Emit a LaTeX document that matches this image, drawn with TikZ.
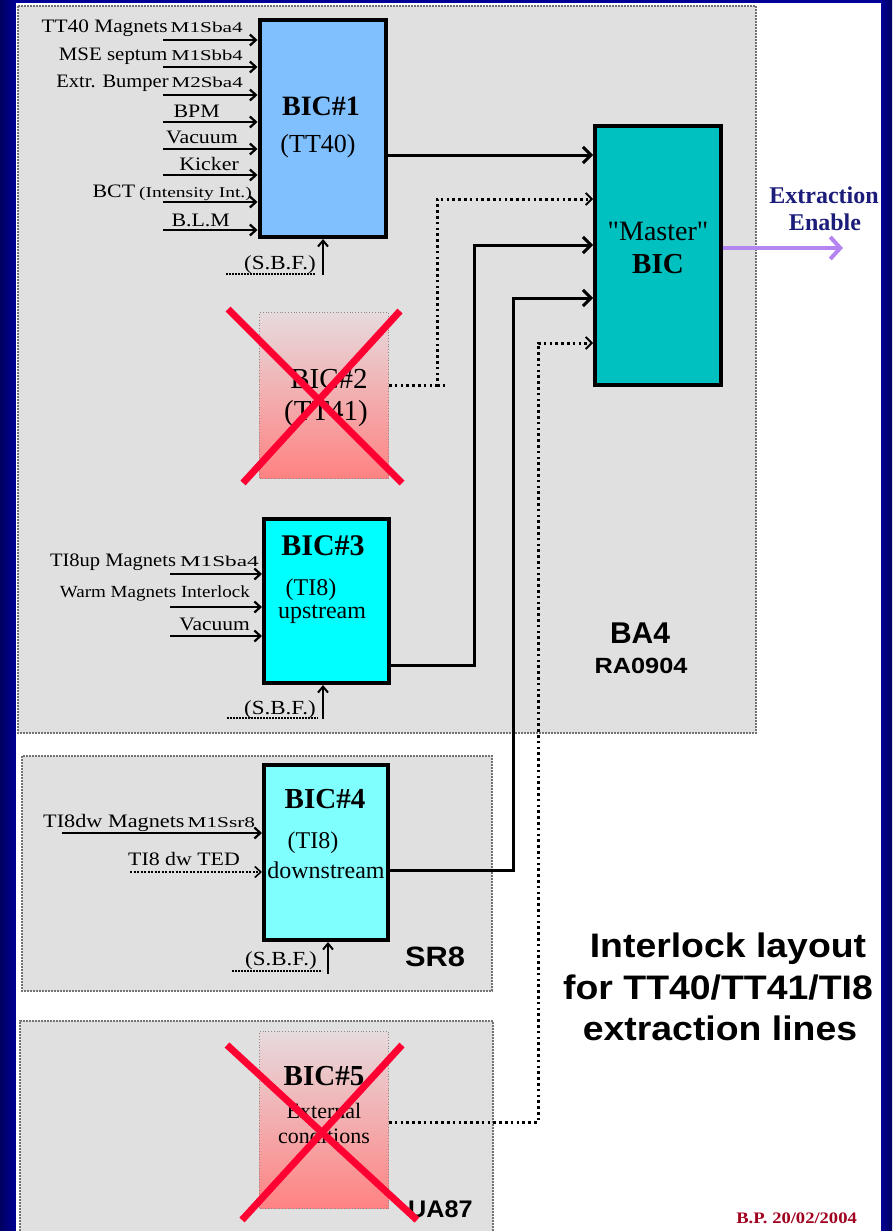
\documentclass[tikz,border=0pt]{standalone}
\usepackage{graphicx}
\usepackage{fontspec}
\setmainfont{Liberation Serif}
\newfontfamily\sansf{Liberation Sans}
\newfontfamily\qfont{Liberation Serif}[Ligatures=TeXOff]
\usetikzlibrary{arrows.meta}
\definecolor{navy}{HTML}{000096}
\definecolor{navydark}{HTML}{000060}
\definecolor{regiongray}{HTML}{E0E0E0}
\definecolor{bicblue}{HTML}{80C0FF}
\definecolor{masterteal}{HTML}{00C0C0}
\definecolor{biccyan}{HTML}{00FFFF}
\definecolor{biclight}{HTML}{80FFFF}
\definecolor{pinktop}{HTML}{E6DADD}
\definecolor{pinkbot}{HTML}{FF8282}
\definecolor{xred}{HTML}{FF0033}
\definecolor{extpurple}{HTML}{B485F2}
\definecolor{extnavy}{HTML}{1C1C7A}
\definecolor{datered}{HTML}{A0001E}
\newcommand\fsz[1]{\fontsize{#1}{#1}\selectfont}
\newcommand\lab[3]{\scalebox{#1}[1]{\fsz{#2}#3}}
\begin{document}
\begin{tikzpicture}[x=1pt,y=-1pt,
  region/.style={fill=regiongray, draw=black!55, line width=1.2pt, dash pattern=on 1.6pt off 1.4pt},
  bic/.style={draw=black, line width=4pt, inner sep=0pt},
  deadbic/.style={draw=black!45, line width=0.8pt, dotted, top color=pinktop, bottom color=pinkbot, inner sep=0pt},
  txt/.style={inner sep=0pt, anchor=base},
  lbl/.style={inner sep=0pt, anchor=base east},
  lblw/.style={inner sep=0pt, anchor=base west},
  inarrow/.style={line width=2.2pt, -{Straight Barb[length=6pt,width=11pt,line width=2.2pt]}},
  dinarrow/.style={line width=2pt, dash pattern=on 2pt off 1.5pt, -{Straight Barb[length=6pt,width=11pt,line width=1.6pt]}},
  uparrow/.style={line width=2pt, -{Straight Barb[length=6pt,width=10pt,line width=2pt]}},
  sbfline/.style={line width=1.6pt, dash pattern=on 1.6pt off 1.4pt},
  conn/.style={line width=3pt, -{Straight Barb[length=8pt,width=16pt,line width=3pt]}},
  dconn/.style={line width=3pt, dash pattern=on 2.6pt off 3.2pt, -{Straight Barb[length=6pt,width=12pt,line width=1.8pt]}},
  dline/.style={line width=3pt, dash pattern=on 2.6pt off 3.2pt},
  xmark/.style={draw=xred, line width=7pt},
  extarrow/.style={draw=extpurple, line width=4pt, -{Straight Barb[length=10pt,width=22pt,line width=4pt]}},
  title/.style={inner sep=0pt, anchor=base, font=\sansf\bfseries}
]
\useasboundingbox (0,0) rectangle (892,1231);
% background
\fill[navy] (0,0) rectangle (892,1231);
\shade[left color=navydark, right color=navy] (0,0) rectangle (16,1231);
\shade[left color=navy, right color=navydark] (881,0) rectangle (892,1231);
\fill[white] (16,3) rectangle (881,1231);
% regions
\path[region] (18,6) rectangle (756,733);
\path[region] (22,756) rectangle (492,991);
\fill[regiongray] (20,1021) rectangle (493,1231);
\draw[region, fill=none] (20,1231) -- (20,1021) -- (493,1021) -- (493,1231);

% region labels
\node[txt] (ba4) at (640,643) {\lab{1}{30}{\sansf\bfseries BA4}};
\node[txt] (ra) at (641,673) {\lab{1.15}{22}{\sansf\bfseries RA0904}};
\node[lblw] (sr8) at (405,966) {\lab{1.1}{28}{\sansf\bfseries SR8}};
\node[lblw] (ua87) at (408,1217) {\lab{1.05}{24}{\sansf\bfseries UA87}};

% boxes
\node[bic, fill=bicblue, minimum width=126pt, minimum height=217pt] (b1) at (322.5,128.5) {};
\node[bic, fill=masterteal, minimum width=126pt, minimum height=259pt] (m) at (658,255.5) {};
\node[deadbic, minimum width=129pt, minimum height=166pt] (b2) at (324,395.5) {};
\node[bic, fill=biccyan, minimum width=125pt, minimum height=164pt] (b3) at (326.5,601) {};
\node[bic, fill=biclight, minimum width=124pt, minimum height=175pt] (b4) at (326,852.5) {};
\node[deadbic, minimum width=129pt, minimum height=177pt] (b5) at (324,1120) {};

% box texts
\node[txt] (t1a) at (321,115) {\lab{1}{28}{\bfseries BIC\#1}};
\node[txt] (t1b) at (318,152) {\lab{1}{26}{(TT40)}};
\node[txt] (tma) at (658,240) {\lab{1}{28}{\qfont "Master"}};
\node[txt] (tmb) at (658,273) {\lab{1}{29}{\bfseries BIC}};
\node[txt] (t2a) at (329,388) {\lab{1}{29}{BIC\#2}};
\node[txt] (t2b) at (326,420) {\lab{1}{29}{(TT41)}};
\node[txt] (t3a) at (323,555) {\lab{1}{30}{\bfseries BIC\#3}};
\node[txt] (t3b) at (311,595) {\lab{1}{24}{(TI8)}};
\node[txt] (t3c) at (322,618) {\lab{1}{24}{upstream}};
\node[txt] (t4a) at (325,808) {\lab{1}{29}{\bfseries BIC\#4}};
\node[txt] (t4b) at (313,848) {\lab{1}{24}{(TI8)}};
\node[txt] (t4c) at (326,878) {\lab{1}{24}{downstream}};
\node[txt] (t5a) at (324,1085) {\lab{1}{29}{\bfseries BIC\#5}};
\node[txt] (t5b) at (324,1118) {\lab{1}{22}{External}};
\node[txt] (t5c) at (324,1143) {\lab{1}{22}{conditions}};

% BIC#1 inputs
\foreach \y/\n in {40/a,67/b,95/c,122/d,149/e,175/f,202/g,230/h}{
  \coordinate (p\n) at (163,\y);
  \draw[inarrow] (p\n) -- (b1.west |- p\n);
}
\node[lbl] (la) at (243,33) {\lab{1.12}{19}{TT40 Magnets}\hspace{3pt}\lab{1.42}{15}{M1Sba4}};
\node[lbl] (lb) at (243,60) {\lab{1.1}{19}{MSE septum}\hspace{4pt}\lab{1.38}{15}{M1Sbb4}};
\node[lbl] (lc) at (243,88) {\lab{1.08}{19}{Extr. Bumper}\hspace{3pt}\lab{1.4}{15}{M2Sba4}};
\node[lbl] (ld) at (220,117) {\lab{1.15}{19}{BPM}};
\node[lbl] (le) at (238,143) {\lab{1.15}{19}{Vacuum}};
\node[lbl] (lf) at (239,170) {\lab{1.15}{19}{Kicker}};
\node[lbl] (lg) at (252,197) {\lab{1.15}{19}{BCT}\hspace{4pt}\lab{1.3}{15}{(Intensity Int.)}};
\node[lbl] (lh) at (230,226) {\lab{1.15}{19}{B.L.M}};

% BIC#3 inputs
\foreach \y/\n in {574/a,607/b,636/c}{
  \coordinate (q\n) at (170,\y);
  \draw[inarrow] (q\n) -- (b3.west |- q\n);
}
\node[lbl] (lqa) at (259,566) {\lab{1.08}{19}{TI8up Magnets}\hspace{4pt}\lab{1.55}{15}{M1Sba4}};
\node[lbl] (lqb) at (250,597) {\lab{1.12}{17}{Warm Magnets Interlock}};
\node[lbl] (lqc) at (250,630) {\lab{1.13}{19}{Vacuum}};

% BIC#4 inputs
\coordinate (ra4) at (62,833);
\draw[inarrow] (ra4) -- (b4.west |- ra4);
\coordinate (rb4) at (130,872);
\draw[dinarrow] (rb4) -- (b4.west |- rb4);
\node[lblw] (lra) at (43,827) {\lab{1.17}{19}{TI8dw Magnets}\hspace{3pt}\lab{1.42}{15}{M1Ssr8}};
\node[lblw] (lrb) at (128,865) {\lab{1.15}{19}{TI8 dw TED}};

% S.B.F. inputs
\node[txt] (sbf1) at (280,269) {\lab{1.15}{20}{(S.B.F.)}};
\draw[sbfline] (226,274) -- (315,274);
\coordinate (s1) at (323,275);
\draw[uparrow] (s1) -- (b1.south -| s1);
\node[txt] (sbf3) at (280,714) {\lab{1.15}{20}{(S.B.F.)}};
\draw[sbfline] (227,718) -- (318,718);
\coordinate (s3) at (323,719);
\draw[uparrow] (s3) -- (b3.south -| s3);
\node[txt] (sbf4) at (281,965) {\lab{1.15}{20}{(S.B.F.)}};
\draw[sbfline] (232,971) -- (322,971);
\coordinate (s4) at (328,974);
\draw[uparrow] (s4) -- (b4.south -| s4);

% Master ports
\coordinate (m1) at ([yshift=100.5pt]m.west);
\coordinate (m2) at ([yshift=56.5pt]m.west);
\coordinate (m3) at ([yshift=10.5pt]m.west);
\coordinate (m4) at ([yshift=-42.5pt]m.west);
\coordinate (m5) at ([yshift=-87.5pt]m.west);

% connectors to master
\draw[conn] (b1.east |- m1) -- (m1);
\coordinate (j2) at (437,385);
\draw[dconn] (b2.east |- j2) -- (j2) |- (m2);
\draw[dline] (j2) -- ++(11,0);
\coordinate (j3) at (474,665);
\draw[conn] (b3.east |- j3) -- (j3) |- (m3);
\coordinate (j4) at (513,870);
\draw[conn] (b4.east |- j4) -- (j4) |- (m4);
\coordinate (j5) at (538,1122);
\draw[dconn] (b5.east |- j5) -- (j5) |- (m5);

% extraction enable
\coordinate (ext) at (843,248);
\draw[extarrow] (m.east |- ext) -- (ext);
\node[txt, text=extnavy] (exa) at (824,203) {\lab{1}{24}{\bfseries Extraction}};
\node[txt, text=extnavy] (exb) at (825,230) {\lab{1}{24}{\bfseries Enable}};

% crosses
\draw[xmark] (228,309) -- (402,483);
\draw[xmark] (400,311) -- (243,483);
\draw[xmark] (227,1045) -- (417,1220);
\draw[xmark] (402,1045) -- (242,1220);

% title
\node[title] (ti1) at (728,957) {\lab{1.1}{34}{Interlock layout}};
\node[title] (ti2) at (718,999) {\lab{1.1}{34}{for TT40/TT41/TI8}};
\node[title] (ti3) at (720,1040) {\lab{1.1}{34}{extraction lines}};

% date
\node[lbl, text=datered] (date) at (857,1223) {\lab{1.16}{16}{\bfseries B.P. 20/02/2004}};
\end{tikzpicture}
\end{document}
